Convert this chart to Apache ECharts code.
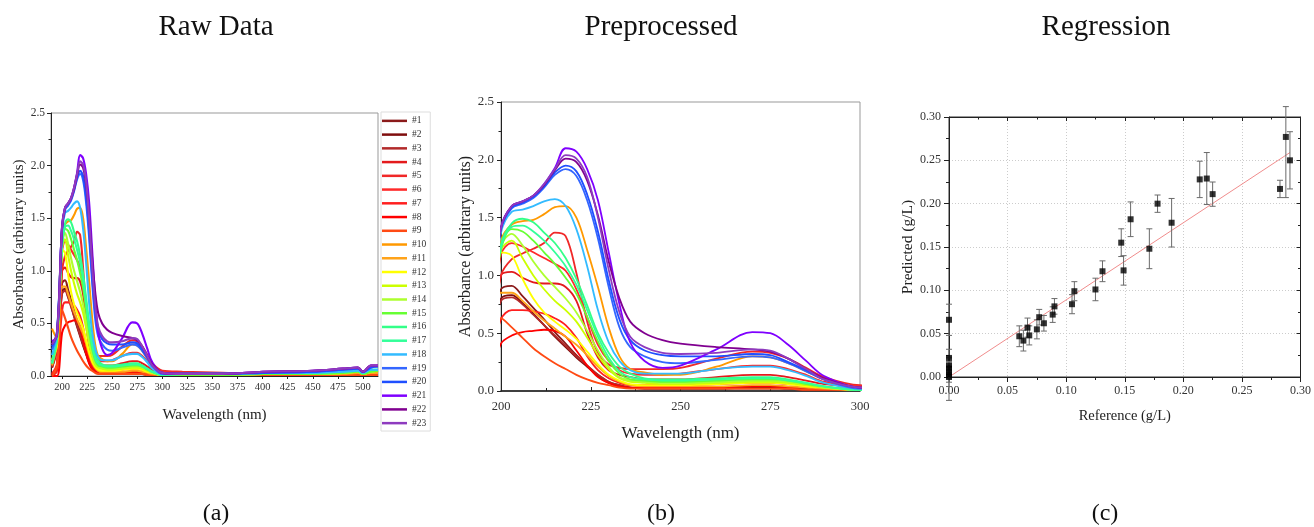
<!DOCTYPE html>
<html>
<head>
<meta charset="utf-8">
<script src="https://cdn.jsdelivr.net/npm/echarts@6/dist/echarts.min.js"></script>
<style>html,body{margin:0;padding:0;background:#fff;}#chart{width:1314px;height:527px;}</style>
</head>
<body>
<div id="chart"></div>
<script>
// ---------- Spectra data (absorbance vs wavelength) ----------
const wavelengths = [190,195,200,203,206,209,212,215,218,221,224,227,230,233,236,240,245,250,260,270,275,280,285,290,300,320,360,400,450,480,495,500,508,515];
const s01 = [0.10,0.30, 0.88,0.91,0.82,0.72,0.62,0.51,0.41,0.31,0.22,0.14,0.08,0.05,0.03, 0.02,0.02,0.02,0.02,0.02,0.02,0.02,0.01,0.01,0.01, 0.01,0.01,0.01,0.01,0.01,0.01,0.01,0.01,0.01];
const s02 = [0.08,0.28, 0.80,0.83,0.76,0.67,0.57,0.47,0.38,0.29,0.21,0.13,0.07,0.04,0.03, 0.02,0.02,0.02,0.02,0.03,0.03,0.02,0.02,0.01,0.01, 0.01,0.01,0.01,0.01,0.01,0.01,0.01,0.01,0.01];
const s03 = [0.08,0.25, 0.78,0.81,0.75,0.66,0.57,0.48,0.39,0.30,0.22,0.14,0.08,0.05,0.03, 0.03,0.03,0.03,0.03,0.04,0.04,0.03,0.02,0.02,0.01, 0.01,0.01,0.01,0.01,0.01,0.01,0.01,0.01,0.01];
const s04 = [0.02,0.10, 1.00,1.03,0.98,0.94,0.93,0.93,0.90,0.78,0.50,0.29,0.18,0.14,0.12, 0.10,0.10,0.10,0.12,0.14,0.14,0.12,0.09,0.06,0.04, 0.03,0.02,0.02,0.02,0.02,0.02,0.01,0.02,0.02];
const s05 = [0.00,0.05, 1.00,1.14,1.19,1.23,1.28,1.37,1.34,1.02,0.60,0.33,0.23,0.20,0.19, 0.19,0.19,0.20,0.28,0.34,0.33,0.28,0.20,0.12,0.05, 0.04,0.03,0.02,0.02,0.02,0.02,0.01,0.02,0.02];
const s06 = [0.02,0.12, 1.18,1.28,1.25,1.20,1.15,1.10,1.04,0.88,0.64,0.40,0.26,0.18,0.15, 0.14,0.14,0.15,0.19,0.22,0.22,0.19,0.14,0.08,0.04, 0.03,0.02,0.02,0.02,0.02,0.02,0.01,0.02,0.02];
const s07 = [0.01,0.08, 0.62,0.70,0.70,0.69,0.67,0.63,0.57,0.46,0.30,0.18,0.11,0.07,0.05, 0.05,0.05,0.05,0.06,0.07,0.07,0.06,0.05,0.03,0.02, 0.02,0.01,0.01,0.01,0.01,0.01,0.01,0.01,0.01];
const s08 = [0.00,0.00, 0.41,0.48,0.51,0.52,0.53,0.52,0.47,0.35,0.22,0.12,0.07,0.04,0.03, 0.03,0.03,0.03,0.03,0.04,0.04,0.03,0.03,0.02,0.01, 0.01,0.01,0.01,0.01,0.01,0.01,0.01,0.01,0.01];
const s09 = [0.00,0.10, 0.63,0.55,0.46,0.37,0.30,0.24,0.19,0.14,0.10,0.07,0.05,0.03,0.02, 0.02,0.02,0.02,0.02,0.02,0.02,0.02,0.01,0.01,0.01, 0.01,0.01,0.01,0.01,0.01,0.01,0.01,0.01,0.01];
const s10 = [0.45,0.35, 1.30,1.44,1.47,1.48,1.53,1.59,1.60,1.50,1.22,0.90,0.55,0.30,0.19, 0.16,0.14,0.14,0.21,0.30,0.29,0.24,0.17,0.10,0.03, 0.02,0.02,0.03,0.03,0.04,0.04,0.03,0.04,0.05];
const s11 = [0.10,0.30, 0.85,0.85,0.78,0.69,0.61,0.54,0.47,0.40,0.31,0.21,0.13,0.08,0.05, 0.04,0.04,0.04,0.04,0.05,0.05,0.04,0.03,0.02,0.01, 0.01,0.01,0.02,0.02,0.02,0.03,0.02,0.03,0.03];
const s12 = [0.15,0.30, 1.20,1.17,0.97,0.80,0.68,0.60,0.53,0.45,0.34,0.23,0.14,0.09,0.06, 0.05,0.05,0.05,0.06,0.07,0.07,0.06,0.04,0.03,0.01, 0.01,0.01,0.02,0.02,0.03,0.04,0.02,0.04,0.05];
const s13 = [0.15,0.35, 1.22,1.30,1.15,1.00,0.88,0.78,0.70,0.60,0.46,0.31,0.19,0.11,0.08, 0.07,0.06,0.06,0.07,0.08,0.08,0.07,0.05,0.03,0.01, 0.01,0.01,0.02,0.02,0.03,0.04,0.02,0.04,0.05];
const s14 = [0.12,0.35, 1.25,1.36,1.26,1.12,1.00,0.90,0.80,0.68,0.52,0.35,0.21,0.12,0.09, 0.08,0.07,0.07,0.08,0.09,0.09,0.08,0.06,0.03,0.01, 0.01,0.01,0.02,0.02,0.03,0.04,0.02,0.04,0.05];
const s15 = [0.12,0.35, 1.22,1.40,1.38,1.30,1.20,1.10,0.98,0.84,0.64,0.43,0.26,0.15,0.10, 0.09,0.08,0.08,0.09,0.10,0.10,0.09,0.06,0.04,0.01, 0.01,0.01,0.02,0.02,0.03,0.04,0.02,0.04,0.05];
const s16 = [0.12,0.38, 1.27,1.45,1.49,1.46,1.37,1.28,1.15,0.97,0.74,0.50,0.33,0.21,0.15, 0.11,0.10,0.10,0.11,0.12,0.12,0.10,0.07,0.04,0.01, 0.02,0.02,0.03,0.03,0.04,0.05,0.03,0.06,0.06];
const s17 = [0.12,0.36, 1.24,1.42,1.43,1.38,1.30,1.20,1.08,0.92,0.70,0.47,0.29,0.17,0.12, 0.10,0.09,0.09,0.10,0.11,0.11,0.09,0.07,0.04,0.01, 0.02,0.02,0.03,0.03,0.04,0.05,0.03,0.06,0.06];
const s18 = [0.20,0.40, 1.37,1.55,1.57,1.60,1.64,1.66,1.60,1.40,1.08,0.70,0.42,0.26,0.18, 0.15,0.15,0.15,0.19,0.21,0.21,0.18,0.13,0.07,0.02, 0.02,0.02,0.03,0.03,0.04,0.05,0.03,0.06,0.06];
const s19 = [0.25,0.42, 1.40,1.58,1.62,1.67,1.76,1.87,1.92,1.86,1.65,1.32,0.90,0.55,0.38, 0.30,0.25,0.24,0.27,0.30,0.29,0.24,0.17,0.10,0.02, 0.02,0.02,0.03,0.04,0.06,0.07,0.04,0.08,0.09];
const s20 = [0.28,0.42, 1.40,1.59,1.63,1.68,1.77,1.89,1.95,1.90,1.70,1.38,0.96,0.62,0.44, 0.35,0.31,0.30,0.30,0.32,0.31,0.25,0.18,0.10,0.03, 0.02,0.02,0.03,0.04,0.06,0.07,0.04,0.08,0.09];
const s21 = [0.33,0.38, 1.42,1.60,1.64,1.69,1.79,1.93,2.10,2.07,1.92,1.65,1.20,0.75,0.42, 0.26,0.20,0.22,0.36,0.51,0.50,0.40,0.26,0.13,0.03, 0.02,0.02,0.04,0.05,0.07,0.08,0.04,0.10,0.10];
const s22 = [0.30,0.40, 1.41,1.60,1.64,1.69,1.78,1.91,2.01,1.98,1.82,1.52,1.12,0.80,0.60, 0.50,0.44,0.41,0.38,0.36,0.34,0.28,0.19,0.11,0.03, 0.02,0.02,0.04,0.05,0.07,0.08,0.04,0.10,0.10];
const s23 = [0.30,0.40, 1.41,1.60,1.64,1.69,1.79,1.92,2.04,2.01,1.85,1.50,1.05,0.68,0.47, 0.38,0.33,0.32,0.33,0.36,0.35,0.28,0.19,0.10,0.03, 0.02,0.02,0.04,0.05,0.07,0.08,0.04,0.10,0.10];
const spectra = [s01,s02,s03,s04,s05,s06,s07,s08,s09,s10,s11,s12,s13,s14,s15,s16,s17,s18,s19,s20,s21,s22,s23];
const sampleNames = ['#1','#2','#3','#4','#5','#6','#7','#8','#9','#10','#11','#12','#13','#14','#15','#16','#17','#18','#19','#20','#21','#22','#23'];
const sampleColors = ['#8b1a1a','#7f0d0d','#b22a2a','#e31a1c','#f02828','#ff2a2a','#ff1f1f','#ff0000','#ff4a14','#ff9900','#ffa31a','#ffff00','#ccff00','#adff2f','#66ff33','#33ff88','#33ff99','#33bbff','#3366ff','#1f4fff','#7f00ff','#800090','#8e3bbf'];

// ---------- Tick labels ----------
const rawTicks = [200,225,250,275,300,325,350,375,400,425,450,475,500];
const prepTicks = [200,225,250,275,300];
const absTicks = [0,0.5,1.0,1.5,2.0,2.5];
const concTicks = [0,0.05,0.10,0.15,0.20,0.25,0.30];

// ---------- Regression data ----------
const refConc   = [0,0,0,0,0,0,0, 0.060,0.0635,0.067,0.0685,0.075,0.077,0.081,0.0885,0.090,0.105,0.107,0.125,0.131,0.147,0.149,0.155,0.171,0.178,0.190,0.214,0.220,0.225,0.2825,0.2875,0.291];
const predConc  = [0.066,0.022,0.013,0.010,0.006,0.003,0.000, 0.047,0.042,0.057,0.048,0.055,0.069,0.062,0.072,0.0815,0.084,0.099,0.101,0.122,0.155,0.123,0.182,0.148,0.200,0.178,0.228,0.229,0.211,0.217,0.277,0.250];
const errMinus  = [0.018,0.010,0.010,0.012,0.012,0.014,0.027, 0.012,0.012,0.011,0.011,0.011,0.009,0.009,0.009,0.009,0.011,0.011,0.013,0.012,0.016,0.017,0.020,0.023,0.010,0.028,0.021,0.030,0.014,0.010,0.070,0.033];
const errPlus   = [0.018,0.010,0.010,0.012,0.012,0.014,0.015, 0.012,0.012,0.011,0.011,0.011,0.009,0.009,0.009,0.009,0.011,0.011,0.013,0.012,0.016,0.017,0.020,0.023,0.010,0.028,0.021,0.030,0.014,0.010,0.035,0.033];
const fitX = [0, 0.291];
const fitY = [0, 0.259];

const SERIF = "'Liberation Serif', 'Times New Roman', serif";
const chart = echarts.init(document.getElementById('chart'), null, {renderer: 'canvas'});

const series = [];
spectra.forEach((vals, i) => {
  const pts = wavelengths.map((w, j) => [w, vals[j]]);
  series.push({
    type: 'line', name: sampleNames[i], xAxisIndex: 0, yAxisIndex: 0,
    data: pts, smooth: 0.35, showSymbol: false, symbol: 'none', clip: true,
    lineStyle: {width: 2.1, color: sampleColors[i]}, itemStyle: {color: sampleColors[i]},
    z: 2 + i * 0.01
  });
});
spectra.forEach((vals, i) => {
  const pts = wavelengths.map((w, j) => [w, vals[j]]);
  series.push({
    type: 'line', name: sampleNames[i], xAxisIndex: 1, yAxisIndex: 1,
    data: pts, smooth: 0.35, showSymbol: false, symbol: 'none', clip: true,
    lineStyle: {width: 1.8, color: sampleColors[i]}, itemStyle: {color: sampleColors[i]},
    z: 2 + i * 0.01
  });
});
series.push({
  type: 'line', name: 'fit', xAxisIndex: 2, yAxisIndex: 2,
  data: fitX.map((x, i) => [x, fitY[i]]), showSymbol: false, symbol: 'none',
  lineStyle: {width: 1, color: '#f08c8c'}, z: 3
});
series.push({
  type: 'custom', name: 'err', xAxisIndex: 2, yAxisIndex: 2, clip: false, z: 4,
  data: refConc.map((x, i) => [x, predConc[i] - errMinus[i], predConc[i] + errPlus[i]]),
  encode: {x: 0, y: [1, 2]},
  renderItem: function (params, api) {
    const x = api.value(0);
    const lo = api.coord([x, api.value(1)]);
    const hi = api.coord([x, api.value(2)]);
    const hw = 3;
    const st = {stroke: '#6a6a6a', lineWidth: 1};
    return {type: 'group', children: [
      {type: 'line', shape: {x1: lo[0], y1: lo[1], x2: hi[0], y2: hi[1]}, style: st},
      {type: 'line', shape: {x1: lo[0]-hw, y1: lo[1], x2: lo[0]+hw, y2: lo[1]}, style: st},
      {type: 'line', shape: {x1: hi[0]-hw, y1: hi[1], x2: hi[0]+hw, y2: hi[1]}, style: st}
    ]};
  }
});
series.push({
  type: 'scatter', name: 'pred', xAxisIndex: 2, yAxisIndex: 2, z: 5,
  data: refConc.map((x, i) => [x, predConc[i]]), symbol: 'rect', symbolSize: 6,
  itemStyle: {color: '#000'}
});

const labelStyle = (sz) => ({fontFamily: SERIF, fontSize: sz, color: '#333'});
const nameStyle = (sz) => ({fontFamily: SERIF, fontSize: sz, color: '#222'});

const option = {
  animation: false,
  backgroundColor: '#fff',
  grid: [
    {left: 51, top: 113, width: 327, height: 263, show: true, borderColor: '#999', borderWidth: 1},
    {left: 501, top: 102, width: 359, height: 289, show: true, borderColor: '#999', borderWidth: 1},
    {left: 949, top: 117, width: 355, height: 260, show: true, borderColor: '#333', borderWidth: 1}
  ],
  legend: {
    data: sampleNames, orient: 'vertical', left: 381, top: 112,
    icon: 'rect', itemWidth: 25, itemHeight: 2.5, itemGap: 0, itemTextGap: 2,
    padding: [2, 4, 1, 1], backgroundColor: '#fff', borderColor: '#ddd', borderWidth: 1,
    textStyle: {fontFamily: SERIF, fontSize: 9.5, color: '#333', lineHeight: 13.74},
    selectedMode: false
  },
  xAxis: [
    {gridIndex: 0, type: 'value', min: 189, max: 515,
     name: 'Wavelength (nm)', nameLocation: 'middle', nameGap: 32, nameTextStyle: nameStyle(15),
     axisLine: {onZero: false, lineStyle: {color: '#222', width: 1}},
     axisTick: {show: true, length: 3, customValues: rawTicks, lineStyle: {color: '#222'}},
     axisLabel: {customValues: rawTicks, margin: 6, ...labelStyle(10.5)},
     splitLine: {show: false}},
    {gridIndex: 1, type: 'value', min: 200, max: 300, interval: 25,
     name: 'Wavelength (nm)', nameLocation: 'middle', nameGap: 34, nameTextStyle: nameStyle(17),
     axisLine: {onZero: false, lineStyle: {color: '#111', width: 1.5}},
     axisTick: {show: true, inside: true, length: 4, lineStyle: {color: '#222'}},
     minorTick: {show: true, splitNumber: 2, length: 3, lineStyle: {color: '#222'}},
     axisLabel: {margin: 9, ...labelStyle(12.5), formatter: (v) => prepTicks.includes(v) ? String(v) : ''},
     splitLine: {show: false}},
    {gridIndex: 2, type: 'value', min: 0, max: 0.3, interval: 0.05,
     name: 'Reference (g/L)', nameLocation: 'middle', nameGap: 32, nameTextStyle: nameStyle(14.5),
     axisLine: {onZero: false, lineStyle: {color: '#222', width: 1}},
     axisTick: {show: true, length: 5, lineStyle: {color: '#222'}},
     minorTick: {show: true, splitNumber: 2, length: 3, lineStyle: {color: '#222'}},
     axisLabel: {margin: 8, ...labelStyle(12), formatter: (v) => concTicks.some(t => Math.abs(t - v) < 1e-9) ? v.toFixed(2) : ''},
     splitLine: {show: true, lineStyle: {color: '#ccc', type: [1, 2], width: 1}}},
    {gridIndex: 2, type: 'value', min: 0, max: 0.3, interval: 0.05, position: 'top',
     axisLine: {onZero: false, lineStyle: {color: '#222'}}, axisLabel: {show: false},
     axisTick: {show: true, inside: true, length: 4, lineStyle: {color: '#222'}},
     minorTick: {show: true, splitNumber: 2, length: 2.5, lineStyle: {color: '#222'}},
     splitLine: {show: false}}
  ],
  yAxis: [
    {gridIndex: 0, type: 'value', min: 0, max: 2.5, interval: 0.5,
     name: 'Absorbance (arbitrary units)', nameLocation: 'middle', nameGap: 24, nameTextStyle: nameStyle(15),
     axisLine: {show: true, onZero: false, lineStyle: {color: '#222', width: 1}},
     axisTick: {show: true, length: 4, lineStyle: {color: '#222'}},
     minorTick: {show: true, splitNumber: 2, length: 2.5, lineStyle: {color: '#222'}},
     axisLabel: {margin: 6, ...labelStyle(11.5), formatter: (v) => absTicks.includes(v) ? v.toFixed(1) : ''},
     splitLine: {show: false}},
    {gridIndex: 1, type: 'value', min: 0, max: 2.5, interval: 0.5,
     name: 'Absorbance (arbitrary units)', nameLocation: 'middle', nameGap: 24, nameTextStyle: nameStyle(16),
     axisLine: {show: true, onZero: false, lineStyle: {color: '#222', width: 1}},
     axisTick: {show: true, length: 4, lineStyle: {color: '#222'}},
     minorTick: {show: true, splitNumber: 2, length: 2.5, lineStyle: {color: '#222'}},
     axisLabel: {margin: 7, ...labelStyle(13), formatter: (v) => absTicks.includes(v) ? v.toFixed(1) : ''},
     splitLine: {show: false}},
    {gridIndex: 2, type: 'value', min: 0, max: 0.3, interval: 0.05,
     name: 'Predicted (g/L)', nameLocation: 'middle', nameGap: 30, nameTextStyle: nameStyle(15.5),
     axisLine: {show: true, onZero: false, lineStyle: {color: '#222', width: 1}},
     axisTick: {show: true, length: 5, lineStyle: {color: '#222'}},
     minorTick: {show: true, splitNumber: 2, length: 3, lineStyle: {color: '#222'}},
     axisLabel: {margin: 8, ...labelStyle(12), formatter: (v) => concTicks.some(t => Math.abs(t - v) < 1e-9) ? v.toFixed(2) : ''},
     splitLine: {show: true, lineStyle: {color: '#ccc', type: [1, 2], width: 1}}},
    {gridIndex: 2, type: 'value', min: 0, max: 0.3, interval: 0.05, position: 'right',
     axisLine: {show: true, onZero: false, lineStyle: {color: '#222'}}, axisLabel: {show: false},
     axisTick: {show: true, inside: true, length: 4, lineStyle: {color: '#222'}},
     minorTick: {show: true, splitNumber: 2, length: 2.5, lineStyle: {color: '#222'}},
     splitLine: {show: false}}
  ],
  graphic: [
    {type: 'text', x: 216, y: 27, style: {text: 'Raw Data', font: '29px ' + SERIF, fill: '#111', align: 'center', verticalAlign: 'middle'}},
    {type: 'text', x: 661, y: 27, style: {text: 'Preprocessed', font: '29px ' + SERIF, fill: '#111', align: 'center', verticalAlign: 'middle'}},
    {type: 'text', x: 1106, y: 27, style: {text: 'Regression', font: '29px ' + SERIF, fill: '#111', align: 'center', verticalAlign: 'middle'}},
    {type: 'text', x: 216, y: 514, style: {text: '(a)', font: '24px ' + SERIF, fill: '#111', align: 'center', verticalAlign: 'middle'}},
    {type: 'text', x: 661, y: 514, style: {text: '(b)', font: '24px ' + SERIF, fill: '#111', align: 'center', verticalAlign: 'middle'}},
    {type: 'text', x: 1105, y: 514, style: {text: '(c)', font: '24px ' + SERIF, fill: '#111', align: 'center', verticalAlign: 'middle'}}
  ],
  series: series
};
chart.setOption(option);
</script>
</body>
</html>
